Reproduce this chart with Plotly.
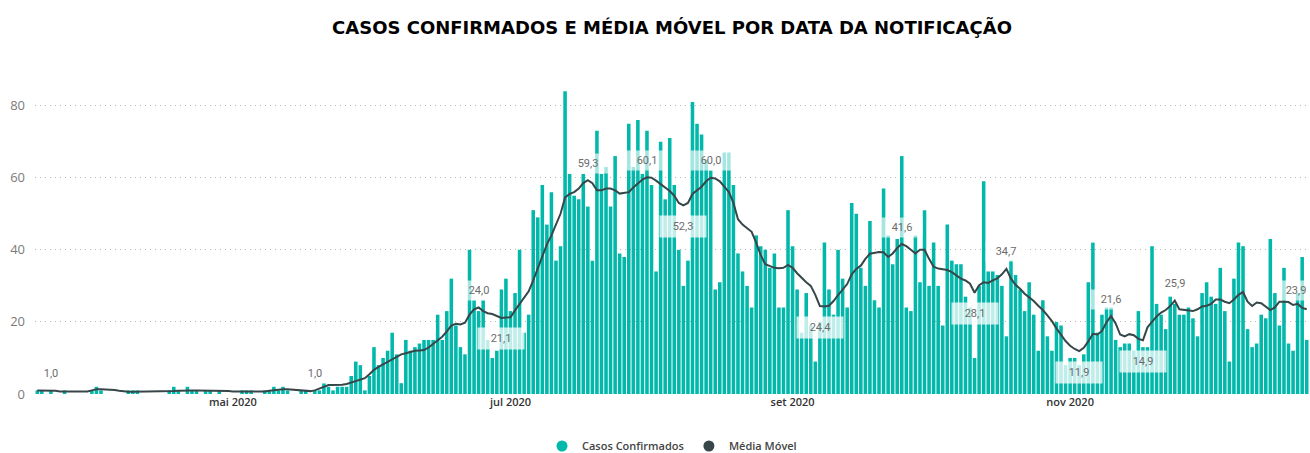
import pandas as pd
import plotly.graph_objects as go

# ---------------- data ----------------
start_date = "2020-03-19"

casos_confirmados = [
    1, 1, 0, 1, 0, 0, 1, 0, 0, 0, 0, 0, 1, 2, 1, 0, 0, 0, 0, 0,
    1, 1, 1, 0, 0, 0, 0, 0, 0, 1, 2, 1, 0, 2, 1, 1, 0, 1, 1, 0,
    1, 0, 0, 0, 0, 1, 1, 1, 0, 0, 1, 1, 2, 1, 2, 1, 0, 0, 1, 1,
    0, 1, 1,
    3, 2, 1, 2, 2, 2, 5, 9, 8, 1, 5, 13, 8, 10, 12, 17, 11, 3, 15, 12,
    13, 14, 15, 15, 15, 22, 15, 23, 32, 19, 13, 11, 40, 26, 23, 26, 15, 10, 12, 29,
    32, 23, 28, 40, 17, 22, 51, 49, 58, 47, 56,
    37, 41, 84, 61, 55, 54, 61, 52, 37, 73, 61, 63, 52, 66, 39, 38, 75, 63, 76, 61,
    73, 58, 34, 70, 54, 71, 58, 40, 30, 37, 81, 75, 72, 65, 62, 29, 31, 67, 67, 58,
    39, 34, 30, 24, 44, 41, 40, 35,
    39, 24, 24, 51, 41, 29, 17, 28, 19, 9, 20, 42, 29, 22, 40, 32, 24, 53, 50, 35,
    30, 48, 26, 24, 57, 44, 36, 43, 66, 24, 23, 44, 31, 51, 30, 42, 30, 19, 47, 37,
    36, 36, 27, 24, 10, 30, 59,
    34, 34, 33, 30, 16, 37, 33, 29, 23, 31, 22, 12, 26, 16, 12, 20, 19, 8, 10, 10,
    8, 11, 31, 42, 17, 22, 24, 24, 15, 13, 14, 14, 12, 23, 13, 13, 41, 25, 22,
    18, 27, 25, 22, 22, 24, 21, 16, 28, 31, 27, 25, 35, 23, 9, 32, 42, 41, 18, 13,
    14, 22, 21, 43, 28, 19, 35, 14, 12, 28, 38, 15,
]

media_movel = [
    1.0, 1.0, 1.0, 1.0, 0.9, 0.7, 0.7, 0.7, 0.6, 0.6, 0.6, 0.7,
    1.0, 1.3, 1.3, 1.3, 1.3, 1.1, 0.9, 0.7,
    0.6, 0.6, 0.6, 0.6, 0.6, 0.6, 0.6, 0.6, 0.6, 0.7, 0.8,
    0.9, 1.0, 1.0, 1.0, 1.0, 1.0, 1.0, 1.0, 1.0, 0.9, 0.9, 0.8, 0.7, 0.7,
    0.6, 0.6, 0.6, 0.6, 0.6, 0.7, 0.9, 1.1,
    1.3, 1.3, 1.3, 1.2, 1.0,
    0.8, 0.8, 0.8, 1.0,
    1.5, 2.0, 2.5, 2.5, 2.5, 2.6, 2.8, 3.2, 3.7, 4.2,
    4.4, 5.5, 6.7, 7.5, 8.2, 8.9, 9.8, 10.5, 11.0, 11.3,
    11.7, 12.0, 12.1, 12.2, 12.9, 13.9, 14.9, 15.9, 17.4, 19.0,
    19.5, 19.3, 19.8, 22.0, 23.5, 24.0, 23.0, 22.4, 22.2,
    21.6, 21.1, 21.2, 21.3, 23.2, 25.0, 26.5, 28.5, 31.5, 35.0,
    38.5, 41.5, 44.0, 47.0, 50.0, 54.5, 55.5, 56.0, 57.0, 58.5,
    59.3, 58.5, 56.5, 56.5, 57.0, 57.0, 56.5, 55.6, 55.8, 56.0,
    57.3, 58.5, 59.5, 60.1, 60.0, 59.2, 58.2, 57.2, 56.3, 55.0,
    53.0, 52.3, 53.0, 55.5, 56.5, 57.5, 59.0, 60.0, 59.8, 59.0,
    57.5, 56.0, 53.0, 48.5, 47.0, 46.0, 45.0, 42.0, 38.5, 36.0,
    35.4, 35.0, 34.9, 35.0, 35.8, 35.0, 33.5, 32.2, 31.0, 30.0,
    27.5, 24.4, 24.3, 24.5, 25.8, 27.4, 28.8, 30.5, 33.2, 34.7,
    35.6, 37.5, 38.9, 39.2, 39.4, 39.3, 38.0, 39.0, 40.5, 41.6,
    41.0, 40.0, 39.0, 40.0, 40.0, 37.5, 35.3, 34.8, 34.5, 34.4,
    33.8, 33.0, 32.0, 31.5, 30.6, 28.1, 30.2, 31.0, 30.8, 31.5,
    32.1, 33.2, 34.7, 32.0, 30.3, 29.2, 27.8, 26.8, 25.8, 24.5,
    23.3, 21.8, 20.2, 18.2, 16.5, 14.7, 13.4, 12.5, 11.9, 12.8,
    14.6, 16.7, 16.5, 17.5, 19.9, 21.6, 19.6, 16.5, 16.0, 16.6,
    16.3, 15.3, 14.9, 18.5, 20.0, 21.5, 22.6, 23.3, 24.4, 25.9,
    23.5, 23.3, 23.3, 23.0, 23.5, 24.3, 24.5, 25.0, 26.2, 26.2,
    25.6, 25.2, 26.2, 27.5, 28.3, 25.6, 24.4, 25.4, 25.2, 24.2,
    23.3, 24.0, 25.6, 25.6, 25.5, 24.7, 25.0, 23.9, 23.5,
]

# data labels on the moving average (dates of the labelled points)
labels_above = ["2020-03-22", "2020-05-19", "2020-06-24", "2020-07-18", "2020-07-31",
                "2020-08-14", "2020-09-25", "2020-10-18", "2020-11-10", "2020-11-24",
                "2020-12-22"]
labels_below = ["2020-06-29", "2020-08-08", "2020-09-07", "2020-10-11", "2020-11-03",
                "2020-11-17"]

month_ticks = ["2020-05-01", "2020-07-01", "2020-09-01", "2020-11-01"]
month_labels = ["mai 2020", "jul 2020", "set 2020", "nov 2020"]
y_ticks = [0, 20, 40, 60, 80]

title_text = "CASOS CONFIRMADOS E MÉDIA MÓVEL POR DATA DA NOTIFICAÇÃO"
name_bars = "Casos Confirmados"
name_line = "Média Móvel"

# ---------------- figure ----------------
dates = pd.date_range(start_date, periods=len(casos_confirmados), freq="D")
ma_series = pd.Series(media_movel, index=dates)

BAR_COLOR = "#01B8AA"
LINE_COLOR = "#374649"

fig = go.Figure()
fig.add_trace(go.Bar(
    x=dates, y=casos_confirmados, name=name_bars,
    marker=dict(color=BAR_COLOR, line=dict(width=0)),
    showlegend=False,
))
fig.add_trace(go.Scatter(
    x=dates, y=media_movel, name=name_line, mode="lines",
    line=dict(color=LINE_COLOR, width=2),
    showlegend=False,
))
# legend entries with round markers (like the original)
fig.add_trace(go.Scatter(x=[None], y=[None], mode="markers", name=name_bars,
                         marker=dict(color=BAR_COLOR, size=11, symbol="circle")))
fig.add_trace(go.Scatter(x=[None], y=[None], mode="markers", name=name_line,
                         marker=dict(color=LINE_COLOR, size=11, symbol="circle")))

def fmt(v):
    return f"{v:.1f}".replace(".", ",")

last_label = labels_above[-1]
annotations = []
for d, shift, below in ([(d, 17, False) for d in labels_above]
                        + [(d, -21, True) for d in labels_below]):
    v = float(ma_series[pd.Timestamp(d)])
    edge = d == last_label
    annotations.append(dict(
        x=pd.Timestamp(d), y=v, xref="x", yref="y", text=fmt(v),
        showarrow=False, yshift=shift, xshift=-6 if edge else 0,
        font=dict(family="Roboto", size=11, color="#6b6b6b"),
        bgcolor="rgba(255,255,255,0.75)" if below else "rgba(255,255,255,0.65)",
        width=28 if edge else (44 if below else 38), height=19 if below else 17,
        borderpad=1,
    ))

fig.update_layout(
    width=1310, height=453,
    margin=dict(l=35, r=1, t=84, b=59, autoexpand=False),
    paper_bgcolor="white", plot_bgcolor="white",
    bargap=0.22,
    title=dict(text=title_text, x=0.5, xref="paper", xanchor="center",
               y=1 - 28 / 453, yref="container", yanchor="middle",
               font=dict(family="DejaVu Sans", size=18, color="#000000", weight="bold")),
    xaxis=dict(
        range=[dates[0] - pd.Timedelta(hours=12), dates[-1] + pd.Timedelta(hours=12)],
        tickvals=month_ticks, ticktext=month_labels,
        showgrid=False, zeroline=False, showline=False, ticks="",
        tickfont=dict(family="Open Sans", size=11, color="#333333", weight=600),
    ),
    yaxis=dict(
        range=[0, 86], tickvals=y_ticks,
        showgrid=True, gridcolor="#b5b5b5", griddash="1px,4px", gridwidth=1,
        zeroline=False, showline=False, ticks="",
        ticklabelstandoff=9,
        tickfont=dict(family="Open Sans", size=13, color="#7a7a7a"),
    ),
    legend=dict(orientation="h", x=0.5, xref="paper", xanchor="center",
                y=-(446 - 394) / 310, yref="paper", yanchor="middle",
                itemwidth=30, tracegroupgap=0,
                font=dict(family="Open Sans", size=11, color="#444444", weight=600)),
    annotations=annotations,
)

fig.write_html("out.html", config={"displayModeBar": False},
               post_script="document.body.style.margin='0';")
